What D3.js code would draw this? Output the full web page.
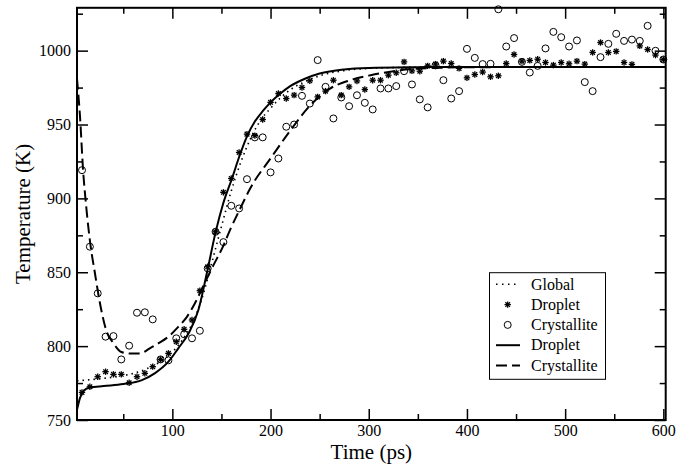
<!DOCTYPE html>
<html><head><meta charset="utf-8">
<script src="https://cdn.jsdelivr.net/npm/d3@7"></script>
<style>body{margin:0;background:#fff}svg{display:block}</style>
</head><body><svg id="c" width="691" height="464"></svg>
<script>
// ---- data ----
const timeStep = 8; // ps between samples (x = 8, 16, ..., 600)
const dropletT = [768.7,772.5,779.3,782.7,780.9,780.9,775.2,779.3,781.6,786.1,
 791,795.1,803,811.4,817.7,837.5,853.7,877.4,904.1,913.5,
 931.1,943.5,942.5,953.4,965,971,967.6,969.9,975.1,979.6,
 968.7,972.6,980,969.9,975.5,979.5,973.7,980,980,983.4,
 985,992.4,986.3,986.1,989.7,990.9,992.9,991.3,988,981.6,
 983.9,985.5,982.3,983,991.3,997.4,992.9,993.4,994.2,992,
 990.2,992,991.1,992.9,990.9,998.8,1005.5,998.8,999.5,992,
 990.7,1003.2,1000.8,997,994];
const crystalT = [919.1,867.3,835.7,806.4,806.8,791,800.3,822.6,822.9,818.1,
 791,790.4,805.3,808,805.3,810.4,852.6,877.4,870.4,895,
 893.2,913,941.3,941.3,917.6,927,948.5,950,969.4,964.2,
 993.6,975.5,954.1,968.3,962.4,969.8,964.7,960.2,974.4,974.4,
 976,986.1,977.1,967,961.6,990,980,967.6,972.6,1001.2,
 995.1,990.9,991.1,1028,1002.8,1008.5,992.4,985.2,989.7,1001.5,
 1012.7,1009.1,1002.8,1006.9,978.7,972.6,995.6,1004.6,1011.4,1006.6,
 1007.5,1006.6,1016.8,999.9,994];
// fitted curves as [time, temperature]
const globalFit = [[2.9,776.5],[20,777.5],[40,779],[60,781.5],[75,785],[90,790.5],[100,796],[110,804],
 [120,815],[130,832],[140,856],[150,881],[160,905],[170,925],[180,941],[190,953],[200,961],[210,968],
 [220,973.5],[235,979],[250,983],[275,986.5],[300,988],[350,988.8],[400,989],[602.4,989]];
const dropletFit = [[2.9,757],[6,765],[10,770],[16,772],[30,773],[50,774.3],[69,777],[82,781.6],
 [96,789.5],[106,798.5],[116.6,808.7],[126.5,824.4],[135,849],[144,877],[152,897],[161,914],[168,928],
 [176,942],[184,952],[192,959],[200,965],[210,971],[220,976],[235,981],[250,984.5],[275,987.3],
 [300,988.3],[350,988.8],[400,989],[602.4,989]];
const crystalFit = [[2.9,981],[6,955],[9,920],[12.5,893],[16.5,869],[21,850],[26,830],[33,810],[40,802],
 [48,796],[57,795],[67,795],[77,798.5],[86,802],[96,806.4],[106,813],[115,820],[123,829],[131,840],
 [142,855],[152,868],[159,879],[169,893],[179.5,907],[201,928],[218,944],[240.5,963],[261,974.5],
 [281,980],[302,983.4],[322,985.7],[342.5,987.5],[363,988.2],[400,988.8],[602.4,989]];
const xTicks = [100,200,300,400,500,600];
const xMinor = [50,150,250,350,450,550];
const yTicks = [750,800,850,900,950,1000];
const yMinor = [775,825,875,925,975,1025];
const legendItems = ["Global","Droplet","Crystallite","Droplet","Crystallite"];

// ---- layout ----
const FONT='"Liberation Serif", "Times New Roman", Times, serif';
const L=77,R=665.7,T=7.8,B=420;
const x=d3.scaleLinear().domain([2.9,602.4]).range([L,R]);
const y=d3.scaleLinear().domain([750,1029]).range([B,T]);
const svg=d3.select("#c");
svg.append("defs").append("clipPath").attr("id","clip").append("rect")
  .attr("x",L).attr("y",T).attr("width",R-L).attr("height",B-T);

const line=d3.line().x(d=>x(d[0])).y(d=>y(d[1])).curve(d3.curveMonotoneX);
const g=svg.append("g").attr("clip-path","url(#clip)");
g.append("path").attr("d",line(dropletFit)).attr("fill","none").attr("stroke","#000").attr("stroke-width",2);
g.append("path").attr("d",line(globalFit)).attr("fill","none").attr("stroke","#000").attr("stroke-width",1.6).attr("stroke-dasharray","1.5,4");
g.append("path").attr("d",line(crystalFit)).attr("fill","none").attr("stroke","#000").attr("stroke-width",2).attr("stroke-dasharray","11,5");

function star(sel,cx,cy){
  const r=3.2,gg=sel.append("g").attr("stroke","#000").attr("stroke-width",1.3);
  [[r,0],[0,r],[r*0.72,r*0.72],[r*0.72,-r*0.72]].forEach(([dx,dy])=>{
    gg.append("line").attr("x1",cx-dx).attr("y1",cy-dy).attr("x2",cx+dx).attr("y2",cy+dy);});
}
function circ(sel,cx,cy){
  sel.append("circle").attr("cx",cx).attr("cy",cy).attr("r",3.5).attr("fill","none").attr("stroke","#000").attr("stroke-width",1);
}
const pts=svg.append("g");
dropletT.forEach((v,i)=>star(pts,x((i+1)*timeStep),y(v)));
crystalT.forEach((v,i)=>circ(pts,x((i+1)*timeStep),y(v)));

// ---- axes (ticks inward on all sides) ----
const ax=svg.append("g");
const bottom=d3.axisBottom(x).tickValues(xTicks).tickSize(-11).tickPadding(5).tickFormat(d3.format("d"));
ax.append("g").attr("transform",`translate(0,${B})`).call(bottom);
ax.append("g").attr("transform",`translate(0,${B})`).call(d3.axisBottom(x).tickValues(xMinor).tickSize(-6).tickFormat(""));
ax.append("g").attr("transform",`translate(0,${T})`).call(d3.axisTop(x).tickValues(xTicks).tickSize(-11).tickFormat(""));
ax.append("g").attr("transform",`translate(0,${T})`).call(d3.axisTop(x).tickValues(xMinor).tickSize(-6).tickFormat(""));
const left=d3.axisLeft(y).tickValues(yTicks).tickSize(-11).tickPadding(6).tickFormat(d3.format("d"));
ax.append("g").attr("transform",`translate(${L},0)`).call(left);
ax.append("g").attr("transform",`translate(${L},0)`).call(d3.axisLeft(y).tickValues(yMinor).tickSize(-6).tickFormat(""));
ax.append("g").attr("transform",`translate(${R},0)`).call(d3.axisRight(y).tickValues(yTicks).tickSize(-11).tickFormat(""));
ax.append("g").attr("transform",`translate(${R},0)`).call(d3.axisRight(y).tickValues(yMinor).tickSize(-6).tickFormat(""));
ax.selectAll(".domain").remove();
ax.selectAll("g").attr("font-family",FONT).attr("font-size",16);
ax.selectAll(".tick line").attr("stroke","#000").attr("stroke-width",1.5);
ax.selectAll(".tick text").attr("fill","#000");
svg.append("rect").attr("x",L).attr("y",T).attr("width",R-L).attr("height",B-T)
  .attr("fill","none").attr("stroke","#000").attr("stroke-width",2);

svg.append("text").attr("x",(L+R)/2).attr("y",458.5).attr("text-anchor","middle").attr("font-size",21).text("Time (ps)");
svg.append("text").attr("transform",`translate(30,${(T+B)/2}) rotate(-90)`).attr("text-anchor","middle").attr("font-size",21).text("Temperature (K)");

// ---- legend ----
const lg=svg.append("g");
lg.append("rect").attr("x",489.5).attr("y",272.7).attr("width",116).attr("height",106.6).attr("fill","#fff").attr("stroke","#000").attr("stroke-width",1);
const rowY=d3.scalePoint().domain(d3.range(legendItems.length)).range([284.3,365.5]);
legendItems.forEach((t,i)=>{
  const yy=rowY(i);
  if(i===0) lg.append("line").attr("x1",496).attr("x2",520).attr("y1",yy).attr("y2",yy).attr("stroke","#000").attr("stroke-width",1.6).attr("stroke-dasharray","1.5,4.5");
  if(i===1) star(lg,507.7,yy);
  if(i===2) circ(lg,507.7,yy);
  if(i===3) lg.append("line").attr("x1",496).attr("x2",520).attr("y1",yy).attr("y2",yy).attr("stroke","#000").attr("stroke-width",2);
  if(i===4) lg.append("line").attr("x1",496).attr("x2",520).attr("y1",yy).attr("y2",yy).attr("stroke","#000").attr("stroke-width",2).attr("stroke-dasharray","11,5");
  lg.append("text").attr("x",531).attr("y",yy).attr("dy","0.33em").attr("font-size",16).text(t);
});
svg.selectAll("text").attr("font-family",FONT).attr("fill","#000");
</script></body></html>
